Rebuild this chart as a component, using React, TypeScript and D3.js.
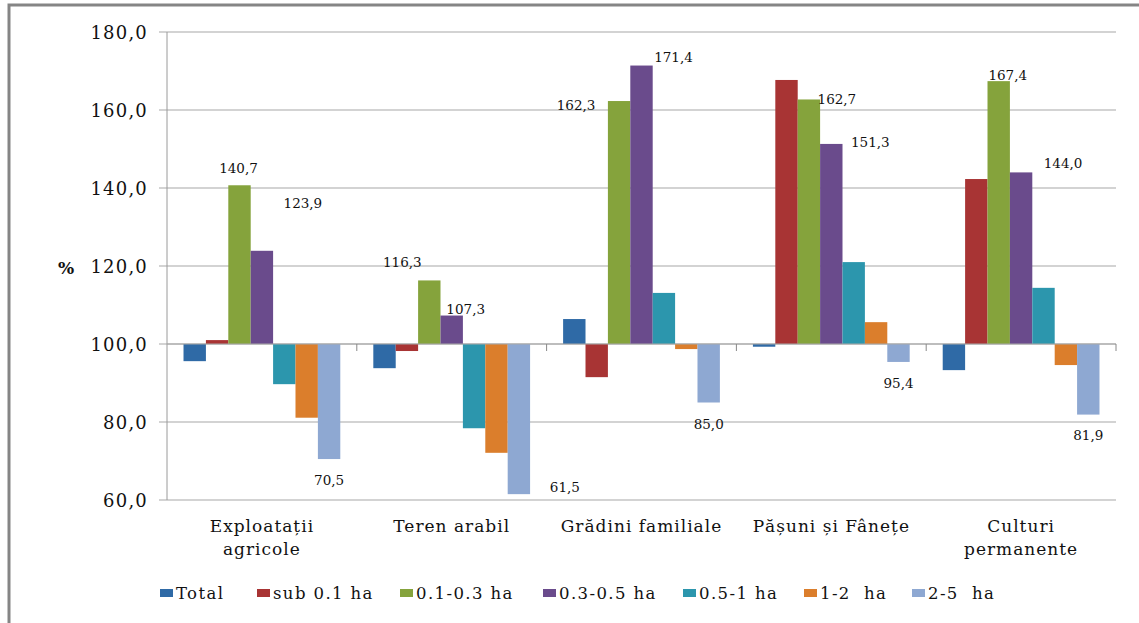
import React from "react";
import * as d3 from "d3";

const categories = [
  ["Exploatații", "agricole"],
  ["Teren arabil"],
  ["Grădini familiale"],
  ["Pășuni și Fânețe"],
  ["Culturi", "permanente"],
];
const seriesNames = ["Total", "sub 0.1 ha", "0.1-0.3 ha", "0.3-0.5 ha", "0.5-1 ha", "1-2  ha", "2-5  ha"];
const total = [95.6, 93.8, 106.4, 99.3, 93.3];
const sub01 = [101.0, 98.2, 91.5, 167.7, 142.3];
const ha01_03 = [140.7, 116.3, 162.3, 162.7, 167.4];
const ha03_05 = [123.9, 107.3, 171.4, 151.3, 144.0];
const ha05_1 = [89.7, 78.4, 113.1, 121.0, 114.4];
const ha1_2 = [81.1, 72.1, 98.7, 105.6, 94.6];
const ha2_5 = [70.5, 61.5, 85.0, 95.4, 81.9];
const yTicks = [60, 80, 100, 120, 140, 160, 180];
const labeledSeries = [2, 3, 6];

const seriesValues = [total, sub01, ha01_03, ha03_05, ha05_1, ha1_2, ha2_5];
const colors = ["#2f6aa6", "#a83434", "#85a33c", "#6a4b8c", "#2c96ad", "#db7e2c", "#8ea8d2"];

// label offsets (dx, dy) relative to bar center / bar end, per category, per labeled series
const labelOffsets: Record<number, [number, number][]> = {
  2: [[-1, -12], [-27, -13], [-43, 9], [28, 4.5], [9, -1]],
  3: [[41, -43], [14, -1.5], [32, -3.5], [39, 2.7], [42, -4]],
  6: [[0, 26], [46, -2], [0, 26.5], [0, 26], [0, 25]],
};
const legendX = [160, 257, 400, 543, 683, 804, 912];

const W = 1139, H = 623;
const plotL = 167, plotR = 1116, plotT = 32, plotB = 500;
const serif = "'DejaVu Serif', serif";

export default function App() {
  const y = d3.scaleLinear().domain([60, 180]).range([plotB, plotT]);
  const x0 = d3.scaleBand<number>().domain(categories.map((_, i) => i)).range([plotL, plotR]);
  const bw = x0.bandwidth();
  const pad = bw * 0.087;
  const x1 = d3.scaleBand<number>().domain(seriesNames.map((_, i) => i)).range([pad, bw - pad]);
  const fmt = (v: number) => v.toFixed(1).replace(".", ",");
  const base = y(100);

  return (
    <svg width={W} height={H} style={{ position: "absolute", left: 0, top: 0, background: "#fff" }}>
      <rect x={9} y={5} width={W + 10} height={H + 10} fill="#fff" stroke="#858585" strokeWidth={3} />
      {yTicks.map((t) => (
        <g key={t}>
          <line x1={plotL - 8} x2={plotR} y1={y(t)} y2={y(t)} stroke="#c4c4c4" strokeWidth={1.6} />
          <text x={148} y={y(t) + 6.5} textAnchor="end" fontFamily={serif} fontSize={18} letterSpacing={1.2} fill="#111">
            {fmt(t)}
          </text>
        </g>
      ))}
      <line x1={plotL} x2={plotL} y1={plotT} y2={plotB} stroke="#9a9a9a" strokeWidth={1} />
      <text x={66} y={274} textAnchor="middle" fontFamily={serif} fontSize={17} fontWeight="bold" fill="#111">%</text>
      {seriesValues.map((vals, s) =>
        vals.map((v, c) => {
          const x = x0(c)! + x1(s)!;
          const yv = y(v);
          return (
            <rect key={`${s}-${c}`} x={x} y={Math.min(yv, base)} width={x1.bandwidth()} height={Math.abs(base - yv)} fill={colors[s]} />
          );
        })
      )}
      <line x1={plotL} x2={plotR} y1={base} y2={base} stroke="#a8a8a8" strokeWidth={1.2} />
      {categories.map((_, i) => (
        <line key={i} x1={x0(i)! + bw} x2={x0(i)! + bw} y1={base} y2={base + 7} stroke="#888" strokeWidth={1} />
      ))}
      {labeledSeries.map((s) =>
        seriesValues[s].map((v, c) => {
          const cx = x0(c)! + x1(s)! + x1.bandwidth() / 2;
          const [dx, dy] = labelOffsets[s][c];
          return (
            <text key={`l${s}-${c}`} x={cx + dx} y={y(v) + dy} textAnchor="middle" fontFamily={serif} fontSize={13.5} fill="#111">
              {fmt(v)}
            </text>
          );
        })
      )}
      {categories.map((lines, i) => (
        <text key={i} textAnchor="middle" fontFamily={serif} fontSize={17} letterSpacing={1} fill="#111">
          {lines.map((ln, j) => (
            <tspan key={j} x={x0(i)! + bw / 2} y={532 + j * 23}>{ln}</tspan>
          ))}
        </text>
      ))}
      {seriesNames.map((n, i) => (
        <g key={n}>
          <rect x={legendX[i]} y={589} width={13} height={8} fill={colors[i]} />
          <text x={legendX[i] + 16} y={599} fontFamily={serif} fontSize={16.5} letterSpacing={1.4} fill="#111" style={{ whiteSpace: "pre" }}>
            {n}
          </text>
        </g>
      ))}
    </svg>
  );
}
